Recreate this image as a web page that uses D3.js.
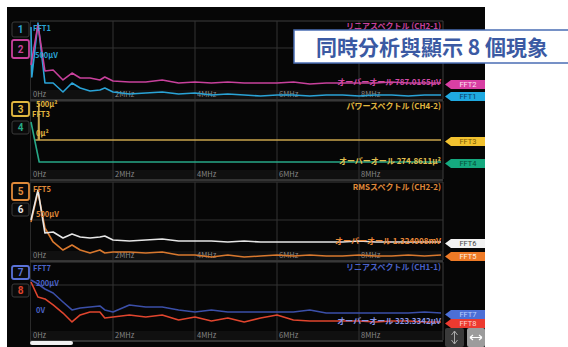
<!DOCTYPE html>
<html>
<head>
<meta charset="utf-8">
<style>
    body { margin: 0; background: #fff; }
    svg { display: block; }
    .lbl { font-family: "Noto Sans CJK JP", "Noto Sans", sans-serif; }
</style>
</head>
<body>
<svg width="568" height="347"></svg>
<script src="https://d3js.org/d3.v7.min.js"></script>
<script>
    // frequency grid (MHz) shared by most traces
    var freq = [0, 0.17, 0.34, 0.54, 0.78, 1.0, 1.2, 1.44, 1.68, 1.8, 2.0, 2.4, 2.8, 3.2, 3.6, 4.0,
        4.4, 4.8, 5.2, 5.6, 6.0, 6.4, 6.8, 7.2, 7.6, 8.0, 8.4, 8.8, 9.2, 9.6, 10];
    var freqTicks = [0, 2, 4, 6, 8];
    var tickLabels = ["0Hz", "2MHz", "4MHz", "6MHz", "8MHz"];

    // panel 1 (linear spectrum CH2-1)
    var fft1Freq = [0, 0.02, 0.17, 0.34, 0.54, 0.78, 1.0, 1.2, 1.44, 1.68, 1.8, 2.0, 2.4, 2.8, 3.2, 3.6, 4.0,
        4.4, 4.8, 5.2, 5.6, 6.0, 6.4, 6.8, 7.2, 7.6, 8.0, 8.4, 8.8, 9.2, 9.6, 10];
    var fft1 = [923, 282, 974, 205, 205, 90, 205, 141, 103, 115, 141, 90, 64, 77, 90, 64, 77,
        51, 64, 51, 38, 51, 51, 38, 51, 51, 38, 51, 51, 38, 51, 51];
    var fft2 = [436, 949, 359, 372, 244, 333, 269, 269, 244, 282, 231, 218, 218, 244, 205, 218,
        205, 218, 205, 205, 205, 218, 192, 205, 205, 205, 205, 218, 205, 205, 205];

    // panel 2 (power spectrum CH4-2)
    var fft3Freq = [0.1, 0.18, 0.19, 0.2, 10];
    var fft3 = [500, 500, 974, 500, 500];
    var fft4Freq = [0, 0.2, 10];
    var fft4 = [731, 218, 218];

    // panel 3 (RMS spectrum CH2-2)
    var fft5 = [487, 872, 410, 231, 128, 192, 128, 90, 128, 90, 103, 103, 90, 103, 64, 64,
        38, 64, 38, 51, 64, 51, 64, 51, 51, 64, 51, 51, 64, 51, 64];
    var fft6 = [513, 897, 346, 359, 282, 333, 295, 282, 295, 308, 256, 244, 256, 269, 244, 244,
        244, 231, 244, 231, 231, 231, 231, 231, 231, 244, 231, 231, 231, 231, 231];

    // panel 4 (linear spectrum CH1-1)
    var fft7 = [769, 718, 654, 603, 487, 385, 410, 423, 436, 385, 359, 449, 423, 423, 385, 359,
        385, 359, 359, 359, 359, 359, 385, 346, 346, 346, 346, 346, 346, 359, 346];
    var fft8 = [744, 551, 526, 449, 346, 231, 321, 359, 359, 282, 295, 321, 295, 321, 256, 295,
        244, 282, 231, 282, 321, 256, 244, 244, 244, 244, 231, 244, 244, 231, 231];

    var panelTitles = ["リニアスペクトル (CH2-1)", "パワースペクトル (CH4-2)", "RMSスペクトル (CH2-2)", "リニアスペクトル (CH1-1)"];
    var overallTexts = ["オーバーオール 787.0165µV", "オーバーオール 274.8611µ²", "オーバーオール 1.324908mV", "オーバーオール 323.3342µV"];
    var gridValues = [[654], [], [513], [705]];

    var svg = d3.select("svg");

    var x = d3.scaleLinear().domain([0, 10]).range([31, 441]);

    var panels = [
        { top: 21, bottom: 99 },
        { top: 101, bottom: 179 },
        { top: 182, bottom: 260 },
        { top: 262, bottom: 340 }
    ];
    panels.forEach(function(p) {
        p.y = d3.scaleLinear().domain([0, 1000]).range([p.bottom, p.top]);
    });

    var traces = [
        { name: "FFT1", panel: 0, f: fft1Freq, v: fft1, color: "#2aa3d6", tag: "#1fa9e0", tagText: "#0b3c66" },
        { name: "FFT2", panel: 0, f: freq, v: fft2, color: "#c8419c", tag: "#d83fa3", tagText: "#fde0f2" },
        { name: "FFT3", panel: 1, f: fft3Freq, v: fft3, color: "#c9a44c", tag: "#f2c230", tagText: "#7a5a00" },
        { name: "FFT4", panel: 1, f: fft4Freq, v: fft4, color: "#27a887", tag: "#15a97f", tagText: "#064d38" },
        { name: "FFT5", panel: 2, f: freq, v: fft5, color: "#d8782e", tag: "#ee7a26", tagText: "#fff0e0" },
        { name: "FFT6", panel: 2, f: freq, v: fft6, color: "#e6e6e6", tag: "#f2f2f2", tagText: "#444" },
        { name: "FFT7", panel: 3, f: freq, v: fft7, color: "#3b4fa8", tag: "#4c6fd6", tagText: "#bcd0ff" },
        { name: "FFT8", panel: 3, f: freq, v: fft8, color: "#e0452e", tag: "#ec3a30", tagText: "#ffd0cc" }
    ];

    // screen background
    svg.append("rect").attr("x", 7).attr("y", 7).attr("width", 478).attr("height", 340).attr("fill", "#060606");

    // panels: frame, grid, tick labels
    panels.forEach(function(p, i) {
        var g = svg.append("g");
        g.append("rect").attr("x", 30).attr("y", p.bottom - 9).attr("width", 413).attr("height", 9).attr("fill", "#101010");
        g.append("line").attr("x1", 30).attr("x2", 443).attr("y1", p.top).attr("y2", p.top).attr("stroke", "#3c3c3c");
        g.append("line").attr("x1", 30).attr("x2", 443).attr("y1", p.bottom + 1).attr("y2", p.bottom + 1).attr("stroke", "#444").attr("stroke-width", 1.5);
        g.append("line").attr("x1", 443).attr("x2", 443).attr("y1", p.top).attr("y2", p.bottom).attr("stroke", "#3c3c3c");
        g.append("line").attr("x1", 30.5).attr("x2", 30.5).attr("y1", p.top).attr("y2", p.bottom).attr("stroke", "#2a2a2a");
        g.selectAll(".vg").data(freqTicks.slice(1)).enter().append("line")
            .attr("x1", d => x(d)).attr("x2", d => x(d))
            .attr("y1", p.top).attr("y2", p.bottom)
            .attr("stroke", "#333");
        g.selectAll(".hg").data(gridValues[i]).enter().append("line")
            .attr("x1", 30).attr("x2", 443)
            .attr("y1", d => p.y(d)).attr("y2", d => p.y(d))
            .attr("stroke", "#333");
        g.selectAll(".tl").data(freqTicks).enter().append("text")
            .attr("class", "lbl")
            .attr("x", d => x(d) + 2).attr("y", p.bottom - 2)
            .attr("fill", "#858585").attr("font-size", 7.5)
            .text((d, j) => tickLabels[j]);
    });

    // traces
    var line = d3.line();
    traces.forEach(function(t) {
        var p = panels[t.panel];
        svg.append("path")
            .attr("d", line(t.f.map((f, i) => [x(f), p.y(t.v[i])])))
            .attr("fill", "none")
            .attr("stroke", t.color)
            .attr("stroke-width", 1.6)
            .attr("stroke-linejoin", "round");
    });

    // panel titles and overall values
    var titleColors = ["#c8419c", "#e2b840", "#e08a3a", "#4a62c8"];
    var overallColors = ["#d24aa6", "#e2c050", "#ee8a38", "#8a96e6"];
    var overallTrace = [1, 3, 5, 7];
    panels.forEach(function(p, i) {
        svg.append("text").attr("class", "lbl")
            .attr("x", 441).attr("y", p.top + 8)
            .attr("text-anchor", "end").attr("font-size", 8).attr("font-weight", "bold")
            .attr("fill", titleColors[i])
            .text(panelTitles[i]);
        var t = traces[overallTrace[i]];
        var yy = p.y(t.v[t.v.length - 1]);
        svg.append("text").attr("class", "lbl")
            .attr("x", 441).attr("y", yy + 2)
            .attr("text-anchor", "end").attr("font-size", 8).attr("font-weight", "bold")
            .attr("fill", overallColors[i])
            .text(overallTexts[i]);
    });

    // left scale labels
    var leftLabels = [
        { t: "FFT1", x: 33, y: 31, c: "#2aa3d6" },
        { t: "500µV", x: 35, y: 58, c: "#2aa3d6" },
        { t: "500µ²", x: 36, y: 107, c: "#e2b840" },
        { t: "FFT3", x: 32, y: 117, c: "#e2b840" },
        { t: "0µ²", x: 36, y: 136, c: "#e2b840" },
        { t: "FFT5", x: 33, y: 192, c: "#e08a3a" },
        { t: "500µV", x: 36, y: 217, c: "#e08a3a" },
        { t: "FFT7", x: 33, y: 271, c: "#4a62c8" },
        { t: "200µV", x: 36, y: 286, c: "#4a62c8" },
        { t: "0V", x: 36, y: 313, c: "#4a62c8" }
    ];
    svg.selectAll(".ll").data(leftLabels).enter().append("text")
        .attr("class", "lbl")
        .attr("x", d => d.x).attr("y", d => d.y)
        .attr("font-size", 7.5).attr("font-weight", "bold")
        .attr("fill", d => d.c)
        .text(d => d.t);

    // channel badges
    var badges = [
        { n: "1", y: 22, h: 15, c: "#2aa3d6", sel: false },
        { n: "2", y: 40, h: 18, c: "#c8419c", sel: true },
        { n: "3", y: 102, h: 14, c: "#e2b840", sel: true },
        { n: "4", y: 121, h: 13, c: "#27a887", sel: false },
        { n: "5", y: 183, h: 17, c: "#e08a3a", sel: true },
        { n: "6", y: 203, h: 13, c: "#e6e6e6", sel: false },
        { n: "7", y: 266, h: 13, c: "#5a72d8", sel: true },
        { n: "8", y: 284, h: 13, c: "#e0452e", sel: false }
    ];
    var bg = svg.selectAll(".badge").data(badges).enter().append("g");
    bg.append("rect")
        .attr("x", 12).attr("y", d => d.y).attr("width", 17).attr("height", d => d.h)
        .attr("rx", 2)
        .attr("fill", "#0a0a0a")
        .attr("stroke", d => d.sel ? d.c : "#3a3a3a")
        .attr("stroke-width", d => d.sel ? 1.8 : 1);
    bg.append("text")
        .attr("x", 20.5).attr("y", d => d.y + d.h / 2 + 3.5)
        .attr("text-anchor", "middle")
        .attr("font-family", "Roboto, sans-serif").attr("font-size", 10).attr("font-weight", "bold")
        .attr("fill", d => d.c)
        .text(d => d.n);

    // right-hand trace tags
    traces.forEach(function(t) {
        var p = panels[t.panel];
        var yy = p.y(t.v[t.v.length - 1]) + 1.5;
        var g = svg.append("g").attr("transform", "translate(0," + yy + ")");
        g.append("path")
            .attr("d", "M445,0 L451,-4.5 L485,-4.5 L485,4.5 L451,4.5 Z")
            .attr("fill", t.tag);
        g.append("text")
            .attr("x", 468).attr("y", 2.7)
            .attr("text-anchor", "middle")
            .attr("font-family", "Roboto, sans-serif").attr("font-size", 7.5)
            .attr("fill", t.tagText)
            .text(t.name);
    });

    // scroll bar and bottom buttons
    svg.append("rect").attr("x", 30).attr("y", 341).attr("width", 43).attr("height", 4).attr("rx", 2).attr("fill", "#f0f0f0");
    svg.append("rect").attr("x", 445).attr("y", 328).attr("width", 19).attr("height", 19).attr("rx", 2).attr("fill", "#3a3a3a");
    svg.append("rect").attr("x", 467).attr("y", 328).attr("width", 18).attr("height", 19).attr("rx", 2).attr("fill", "#9c9c9c");
    svg.append("path").attr("d", "M454.5,331 L451.5,335 M454.5,331 L457.5,335 M454.5,331 L454.5,344 M454.5,344 L451.5,340 M454.5,344 L457.5,340")
        .attr("stroke", "#aaa").attr("stroke-width", 1).attr("fill", "none");
    svg.append("path").attr("d", "M470,337.5 L482,337.5 M470,337.5 L473,335 M470,337.5 L473,340 M482,337.5 L479,335 M482,337.5 L479,340")
        .attr("stroke", "#fff").attr("stroke-width", 1.2).attr("fill", "none");

    // caption box
    svg.append("rect").attr("x", 294).attr("y", 30).attr("width", 290).attr("height", 33)
        .attr("fill", "#fff").attr("stroke", "#4a6db4").attr("stroke-width", 1.5);
    svg.append("text")
        .attr("x", 316).attr("y", 55)
        .attr("font-family", "'Noto Sans CJK TC', sans-serif").attr("font-size", 21).attr("font-weight", "bold")
        .attr("fill", "#3b5aa3")
        .text("同時分析與顯示 8 個現象");
</script>
</body>
</html>
